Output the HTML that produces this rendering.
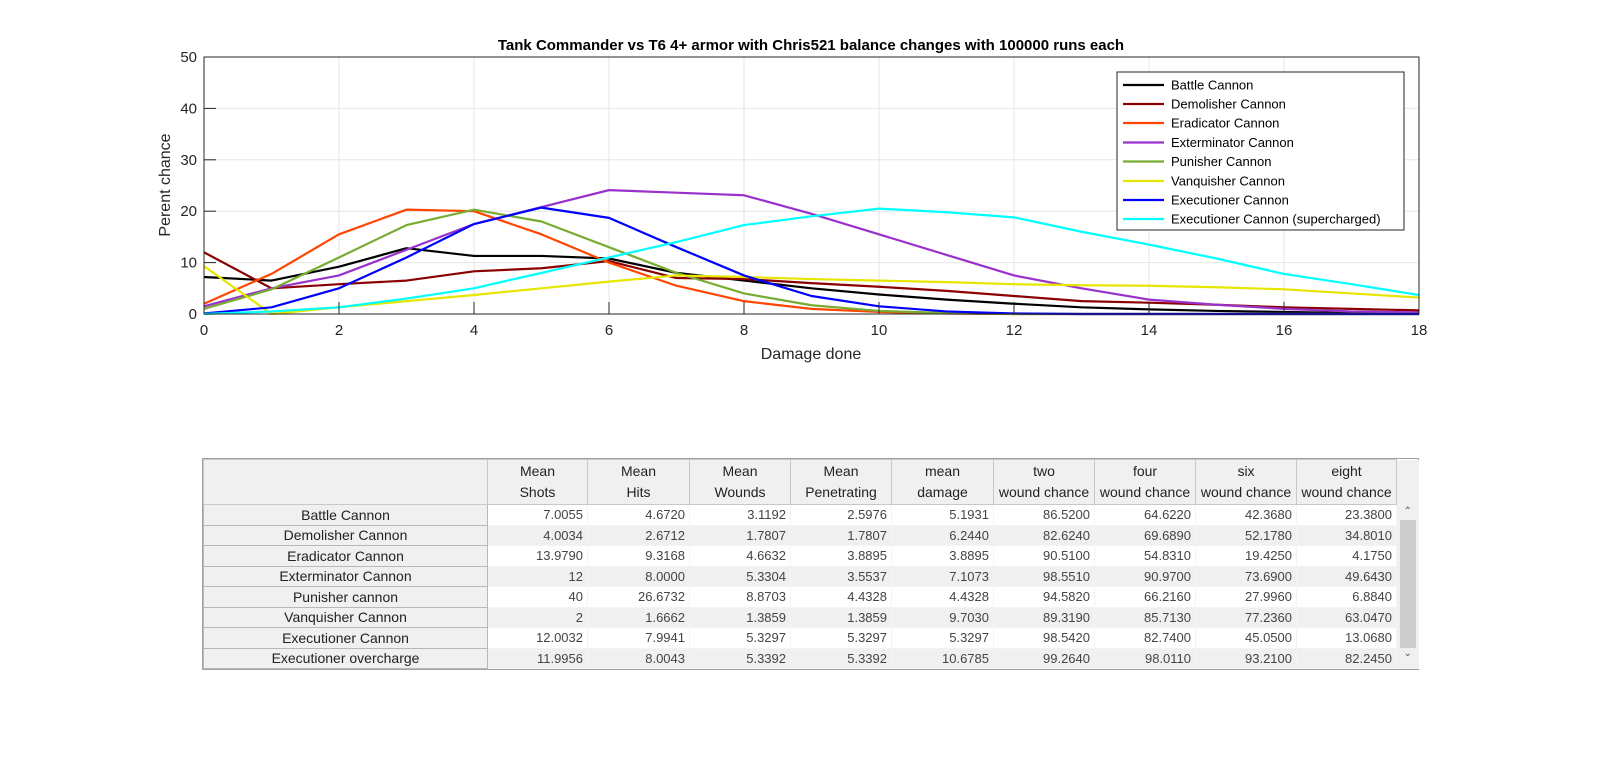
<!DOCTYPE html>
<html><head><meta charset="utf-8"><style>
body{margin:0;width:1600px;height:768px;background:#fff;position:relative;overflow:hidden;font-family:"Liberation Sans",sans-serif}
table{position:absolute;left:203px;top:459px;border-collapse:collapse;table-layout:fixed;font-size:13px;color:#222}
td{padding:0;height:19.5px;border:1px solid #d0d0d0;white-space:nowrap;overflow:hidden}
td.h{background:#f0f0f0;text-align:center;height:44px;line-height:21px;font-size:14px;border-color:#c8c8c8}
td.n{background:#f0f0f0;text-align:center;font-size:14px;border-color:#b8b8b8}
td.v{text-align:right;padding-right:4px;color:#444;border-color:#f4f4f4}
tr.a td.v{background:#fff} tr.b td.v{background:#f0f0f0}
td.s{background:#f0f0f0;border:none}
</style></head><body>
<svg width="1600" height="440" style="position:absolute;left:0;top:0" font-family="Liberation Sans, sans-serif">
<rect x="204" y="57" width="1215" height="257" fill="#fff"/>
<g stroke="#e6e6e6" stroke-width="1">
<line x1="339" y1="57" x2="339" y2="314"/><line x1="474" y1="57" x2="474" y2="314"/><line x1="609" y1="57" x2="609" y2="314"/><line x1="744" y1="57" x2="744" y2="314"/><line x1="879" y1="57" x2="879" y2="314"/><line x1="1014" y1="57" x2="1014" y2="314"/><line x1="1149" y1="57" x2="1149" y2="314"/><line x1="1284" y1="57" x2="1284" y2="314"/>
<line x1="204" y1="108.4" x2="1419" y2="108.4"/><line x1="204" y1="159.8" x2="1419" y2="159.8"/><line x1="204" y1="211.2" x2="1419" y2="211.2"/><line x1="204" y1="262.6" x2="1419" y2="262.6"/>
</g>
<g transform="translate(204,314) scale(67.5,-5.14)" fill="none" stroke-width="2.2" stroke-linejoin="round">
<polyline vector-effect="non-scaling-stroke" stroke="#000" points="0,7.2 1,6.5 2,9.2 3,12.8 4,11.3 5,11.3 6,10.8 7,8 8,6.5 9,5 10,3.8 11,2.8 12,2 13,1.3 14,0.9 15,0.6 16,0.4 17,0.2 18,0.1"/>
<polyline vector-effect="non-scaling-stroke" stroke="#8b0000" points="0,12 1,5 2,5.8 3,6.5 4,8.3 5,8.9 6,10.3 7,7 8,6.8 9,6 10,5.3 11,4.5 12,3.5 13,2.5 14,2.2 15,1.8 16,1.3 17,1 18,0.7"/>
<polyline vector-effect="non-scaling-stroke" stroke="#ff4500" points="0,2 1,7.8 2,15.5 3,20.3 4,20 5,15.5 6,10 7,5.5 8,2.5 9,1 10,0.4 11,0.1 12,0 18,0"/>
<polyline vector-effect="non-scaling-stroke" stroke="#9932cc" points="0,1.5 1,5 2,7.5 3,12.5 4,17.5 5,20.8 6,24.1 7,23.6 8,23.1 9,19.5 10,15.5 11,11.5 12,7.5 13,5 14,2.8 15,1.8 16,1 17,0.5 18,0.3"/>
<polyline vector-effect="non-scaling-stroke" stroke="#77ac30" points="0,1 1,4.8 2,11 3,17.3 4,20.3 5,18 6,13 7,8 8,4 9,1.7 10,0.6 11,0.2 12,0 18,0"/>
<polyline vector-effect="non-scaling-stroke" stroke="#e6e600" points="0,9.3 1,0 2,1.3 3,2.5 4,3.7 5,5 6,6.3 7,7.5 8,7.2 9,6.8 10,6.5 11,6.2 12,5.8 13,5.6 14,5.5 15,5.2 16,4.8 17,4 18,3.2"/>
<polyline vector-effect="non-scaling-stroke" stroke="#0000ff" points="0,0.1 1,1.3 2,5 3,11 4,17.5 5,20.7 6,18.7 7,13 8,7.5 9,3.5 10,1.5 11,0.5 12,0.1 13,0 18,0"/>
<polyline vector-effect="non-scaling-stroke" stroke="#00ffff" points="0,0 1,0.5 2,1.3 3,3 4,5 5,8 6,11 7,14 8,17.3 9,19 10,20.5 11,19.8 12,18.8 13,16 14,13.5 15,10.8 16,7.8 17,5.8 18,3.7"/>
</g>
<rect x="204" y="57" width="1215" height="257" fill="none" stroke="#262626" stroke-width="1"/>
<g stroke="#262626">
<line x1="339" y1="314" x2="339" y2="302"/><line x1="474" y1="314" x2="474" y2="302"/><line x1="609" y1="314" x2="609" y2="302"/><line x1="744" y1="314" x2="744" y2="302"/><line x1="879" y1="314" x2="879" y2="302"/><line x1="1014" y1="314" x2="1014" y2="302"/><line x1="1149" y1="314" x2="1149" y2="302"/><line x1="1284" y1="314" x2="1284" y2="302"/>
<line x1="204" y1="108.4" x2="216" y2="108.4"/><line x1="204" y1="159.8" x2="216" y2="159.8"/><line x1="204" y1="211.2" x2="216" y2="211.2"/><line x1="204" y1="262.6" x2="216" y2="262.6"/>
</g>
<g font-size="15" fill="#262626" text-anchor="middle">
<text x="204" y="335">0</text><text x="339" y="335">2</text><text x="474" y="335">4</text><text x="609" y="335">6</text><text x="744" y="335">8</text><text x="879" y="335">10</text><text x="1014" y="335">12</text><text x="1149" y="335">14</text><text x="1284" y="335">16</text><text x="1419" y="335">18</text>
</g>
<g font-size="15" fill="#262626" text-anchor="end">
<text x="197" y="319">0</text><text x="197" y="267.6">10</text><text x="197" y="216.2">20</text><text x="197" y="164.8">30</text><text x="197" y="113.4">40</text><text x="197" y="62">50</text>
</g>
<text x="811" y="359" font-size="16" fill="#262626" text-anchor="middle">Damage done</text>
<text transform="translate(170,185) rotate(-90)" font-size="16" fill="#262626" text-anchor="middle">Perent chance</text>
<text x="811" y="50" font-size="15" font-weight="bold" fill="#000" text-anchor="middle">Tank Commander vs T6 4+ armor with Chris521 balance changes with 100000 runs each</text>
<rect x="1117" y="72" width="287" height="158" fill="#fff" stroke="#262626"/>
<g stroke-width="2.2">
<line x1="1123" y1="85" x2="1164" y2="85" stroke="#000"/>
<line x1="1123" y1="104" x2="1164" y2="104" stroke="#8b0000"/>
<line x1="1123" y1="123" x2="1164" y2="123" stroke="#ff4500"/>
<line x1="1123" y1="142.5" x2="1164" y2="142.5" stroke="#9932cc"/>
<line x1="1123" y1="161.5" x2="1164" y2="161.5" stroke="#77ac30"/>
<line x1="1123" y1="181" x2="1164" y2="181" stroke="#e6e600"/>
<line x1="1123" y1="200" x2="1164" y2="200" stroke="#0000ff"/>
<line x1="1123" y1="219" x2="1164" y2="219" stroke="#00ffff"/>
</g>
<g font-size="13" fill="#000">
<text x="1171" y="89.5">Battle Cannon</text><text x="1171" y="108.5">Demolisher Cannon</text><text x="1171" y="127.5">Eradicator Cannon</text><text x="1171" y="147">Exterminator Cannon</text><text x="1171" y="166">Punisher Cannon</text><text x="1171" y="185.5">Vanquisher Cannon</text><text x="1171" y="204.5">Executioner Cannon</text><text x="1171" y="223.5">Executioner Cannon (supercharged)</text>
</g>
</svg>
<div style="position:absolute;left:202px;top:458px;width:1217px;height:212px;border:1px solid #a0a0a0;box-sizing:border-box"></div>
<table>
<colgroup><col style="width:284px"><col style="width:100px"><col style="width:102px"><col style="width:101px"><col style="width:101px"><col style="width:102px"><col style="width:101px"><col style="width:101px"><col style="width:101px"><col style="width:100px"><col style="width:22px"></colgroup>
<tr><td class="h"></td><td class="h">Mean<br>Shots</td><td class="h">Mean<br>Hits</td><td class="h">Mean<br>Wounds</td><td class="h">Mean<br>Penetrating</td><td class="h">mean<br>damage</td><td class="h">two<br>wound chance</td><td class="h">four<br>wound chance</td><td class="h">six<br>wound chance</td><td class="h">eight<br>wound chance</td><td class="s" rowspan="9" style="vertical-align:top"><div style="height:46px"></div><div style="text-align:center;font-size:10px;color:#555;height:14px">&#8963;</div><div style="margin:0 3px;height:128px;background:#cdcdcd"></div><div style="text-align:center;font-size:10px;color:#555">&#8964;</div></td></tr>
<tr class="a"><td class="n">Battle Cannon</td><td class="v">7.0055</td><td class="v">4.6720</td><td class="v">3.1192</td><td class="v">2.5976</td><td class="v">5.1931</td><td class="v">86.5200</td><td class="v">64.6220</td><td class="v">42.3680</td><td class="v">23.3800</td></tr>
<tr class="b"><td class="n">Demolisher Cannon</td><td class="v">4.0034</td><td class="v">2.6712</td><td class="v">1.7807</td><td class="v">1.7807</td><td class="v">6.2440</td><td class="v">82.6240</td><td class="v">69.6890</td><td class="v">52.1780</td><td class="v">34.8010</td></tr>
<tr class="a"><td class="n">Eradicator Cannon</td><td class="v">13.9790</td><td class="v">9.3168</td><td class="v">4.6632</td><td class="v">3.8895</td><td class="v">3.8895</td><td class="v">90.5100</td><td class="v">54.8310</td><td class="v">19.4250</td><td class="v">4.1750</td></tr>
<tr class="b"><td class="n">Exterminator Cannon</td><td class="v">12</td><td class="v">8.0000</td><td class="v">5.3304</td><td class="v">3.5537</td><td class="v">7.1073</td><td class="v">98.5510</td><td class="v">90.9700</td><td class="v">73.6900</td><td class="v">49.6430</td></tr>
<tr class="a"><td class="n">Punisher cannon</td><td class="v">40</td><td class="v">26.6732</td><td class="v">8.8703</td><td class="v">4.4328</td><td class="v">4.4328</td><td class="v">94.5820</td><td class="v">66.2160</td><td class="v">27.9960</td><td class="v">6.8840</td></tr>
<tr class="b"><td class="n">Vanquisher Cannon</td><td class="v">2</td><td class="v">1.6662</td><td class="v">1.3859</td><td class="v">1.3859</td><td class="v">9.7030</td><td class="v">89.3190</td><td class="v">85.7130</td><td class="v">77.2360</td><td class="v">63.0470</td></tr>
<tr class="a"><td class="n">Executioner Cannon</td><td class="v">12.0032</td><td class="v">7.9941</td><td class="v">5.3297</td><td class="v">5.3297</td><td class="v">5.3297</td><td class="v">98.5420</td><td class="v">82.7400</td><td class="v">45.0500</td><td class="v">13.0680</td></tr>
<tr class="b"><td class="n">Executioner overcharge</td><td class="v">11.9956</td><td class="v">8.0043</td><td class="v">5.3392</td><td class="v">5.3392</td><td class="v">10.6785</td><td class="v">99.2640</td><td class="v">98.0110</td><td class="v">93.2100</td><td class="v">82.2450</td></tr>
</table>
</body></html>
